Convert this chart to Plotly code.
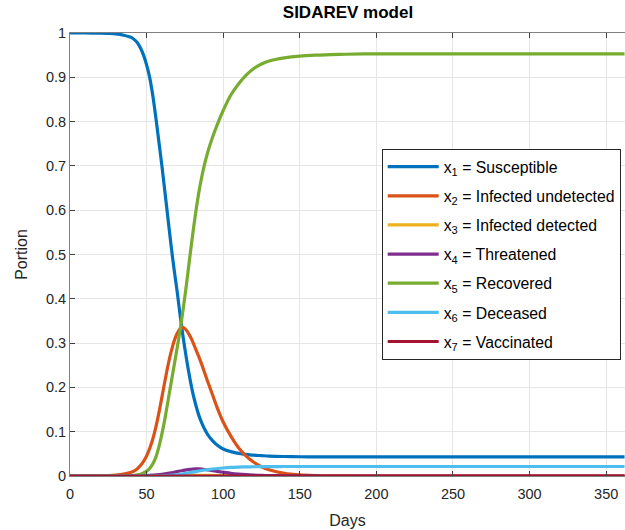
import plotly.graph_objects as go

days = [0, 10, 20, 25, 30, 35, 40, 42, 44, 46,
        48, 50, 52, 54, 56, 58, 60, 62, 64, 66,
        68, 70, 72, 74, 76, 78, 80, 82, 84, 86,
        88, 90, 93, 96, 100, 105, 110, 115, 120, 125,
        130, 140, 150, 160, 170, 180, 200, 250, 300, 362]

susceptible = [1.0, 1.0, 0.9995, 0.999, 0.998, 0.995, 0.99, 0.985, 0.978, 0.966,
               0.95, 0.928, 0.90, 0.86, 0.81, 0.755, 0.70, 0.64, 0.58, 0.52,
               0.465, 0.415, 0.36, 0.31, 0.265, 0.225, 0.19, 0.162, 0.138, 0.12,
               0.105, 0.093, 0.08, 0.07, 0.061, 0.055, 0.051, 0.049, 0.047, 0.046,
               0.045, 0.044, 0.0435, 0.043, 0.043, 0.043, 0.043, 0.043, 0.043, 0.043]
infected_undetected = [0, 0.0001, 0.0005, 0.001, 0.0022, 0.0045, 0.0085, 0.0115, 0.0165, 0.0235,
                       0.033, 0.045, 0.062, 0.083, 0.11, 0.142, 0.178, 0.215, 0.25, 0.28,
                       0.305, 0.322, 0.333, 0.335, 0.329, 0.318, 0.304, 0.287, 0.27, 0.252,
                       0.232, 0.212, 0.184, 0.155, 0.122, 0.09, 0.064, 0.045, 0.031, 0.021,
                       0.014, 0.006, 0.0025, 0.001, 0.0005, 0.0002, 0, 0, 0, 0]
infected_detected = [0, 0, 0, 0, 0, 0, 0, 0, 0.0001, 0.0001,
                     0.0002, 0.0003, 0.0004, 0.0005, 0.0007, 0.0008, 0.001, 0.0012, 0.0014, 0.0016,
                     0.0018, 0.0019, 0.002, 0.002, 0.002, 0.0019, 0.0018, 0.0017, 0.0016, 0.0015,
                     0.0014, 0.0013, 0.0011, 0.0009, 0.0008, 0.0006, 0.0004, 0.0003, 0.0002, 0.0001,
                     0.0001, 0, 0, 0, 0, 0, 0, 0, 0, 0]
threatened = [0, 0, 0, 0, 0, 0, 0.0002, 0.0003, 0.0004, 0.0006,
              0.0008, 0.0011, 0.0015, 0.002, 0.0025, 0.0032, 0.004, 0.005, 0.006, 0.0072,
              0.0085, 0.01, 0.0113, 0.0126, 0.0138, 0.0148, 0.0156, 0.016, 0.0159, 0.0154,
              0.0146, 0.0137, 0.0122, 0.0106, 0.0085, 0.006, 0.0042, 0.0029, 0.002, 0.0014,
              0.001, 0.0005, 0.0002, 0.0001, 0, 0, 0, 0, 0, 0]
recovered = [0, 0, 0.0001, 0.0002, 0.0003, 0.0006, 0.001, 0.0015, 0.0025, 0.004,
             0.007, 0.011, 0.017, 0.027, 0.042, 0.065, 0.095, 0.13, 0.17, 0.21,
             0.25, 0.29, 0.332, 0.38, 0.432, 0.488, 0.543, 0.593, 0.638, 0.675,
             0.706, 0.732, 0.764, 0.792, 0.825, 0.86, 0.885, 0.905, 0.92, 0.93,
             0.937, 0.944, 0.948, 0.950, 0.951, 0.952, 0.953, 0.953, 0.953, 0.953]
deceased = [0, 0, 0, 0, 0, 0, 0, 0, 0, 0,
            0.0001, 0.00015, 0.0002, 0.0003, 0.0004, 0.0005, 0.0006, 0.0008, 0.0011, 0.0015,
            0.002, 0.0028, 0.0038, 0.005, 0.0062, 0.0075, 0.0088, 0.01, 0.0112, 0.0124,
            0.0135, 0.0145, 0.0158, 0.0169, 0.0181, 0.0193, 0.0201, 0.0206, 0.0209, 0.0211,
            0.0212, 0.0214, 0.0215, 0.0215, 0.0215, 0.0215, 0.0215, 0.0215, 0.0215, 0.0215]
vaccinated = [0] * len(days)

names = ["x<sub>1</sub> = Susceptible", "x<sub>2</sub> = Infected undetected",
         "x<sub>3</sub> = Infected detected", "x<sub>4</sub> = Threatened",
         "x<sub>5</sub> = Recovered", "x<sub>6</sub> = Deceased", "x<sub>7</sub> = Vaccinated"]
series = [susceptible, infected_undetected, infected_detected, threatened,
          recovered, deceased, vaccinated]
colors = ["#0072BD", "#D95319", "#EDB120", "#7E2F8E", "#77AC30", "#4DBEEE", "#A2142F"]

FONT = "Liberation Sans, Arial, Helvetica, sans-serif"

fig = go.Figure()
for i, (nm, ys, c) in enumerate(zip(names, series, colors)):
    fig.add_trace(go.Scatter(x=days, y=ys, name=nm, mode="lines",
                             line=dict(color=c, width=3.2, shape="spline", smoothing=0.8),
                             legendgroup=str(i)))

fig.update_layout(
    width=625, height=530,
    margin=dict(l=70, r=0, t=33, b=53.5),
    paper_bgcolor="white", plot_bgcolor="white",
    font=dict(family=FONT, size=14, color="#262626"),
    title=dict(text="<b>SIDAREV model</b>", x=348/625, xref="container", xanchor="center",
               y=1-12/530, yref="container", yanchor="middle",
               font=dict(size=17, color="#000000")),
    showlegend=True,
    legend=dict(x=(381.7-70)/555, y=(476.5-149)/443.5, xanchor="left", yanchor="top",
                bgcolor="white", bordercolor="#262626", borderwidth=1,
                font=dict(size=15.8, color="#000000"), tracegroupgap=5.6,
                itemwidth=51),
    xaxis=dict(range=[0, 362.3], tickvals=[0, 50, 100, 150, 200, 250, 300, 350],
               showgrid=True, gridcolor="#e6e6e6", gridwidth=1,
               showline=True, linecolor="#808080", linewidth=1, mirror="ticks",
               ticks="inside", ticklen=5, tickcolor="#404040",
               zeroline=False, tickfont=dict(size=14.5, color="#262626"),
               ticklabelstandoff=5,
               title=dict(text="Days", font=dict(size=16, color="#262626"), standoff=13)),
    yaxis=dict(range=[0, 1], tickvals=[0, 0.1, 0.2, 0.3, 0.4, 0.5, 0.6, 0.7, 0.8, 0.9, 1],
               ticktext=["0", "0.1", "0.2", "0.3", "0.4", "0.5", "0.6", "0.7", "0.8", "0.9", "1"],
               showgrid=True, gridcolor="#e6e6e6", gridwidth=1,
               showline=True, linecolor="#808080", linewidth=1, mirror=False,
               ticks="inside", ticklen=5, tickcolor="#404040",
               zeroline=False, tickfont=dict(size=14.5, color="#262626"),
               title=dict(text="Portion", font=dict(size=16, color="#262626"), standoff=14)),
)

fig.write_html("out.html")
